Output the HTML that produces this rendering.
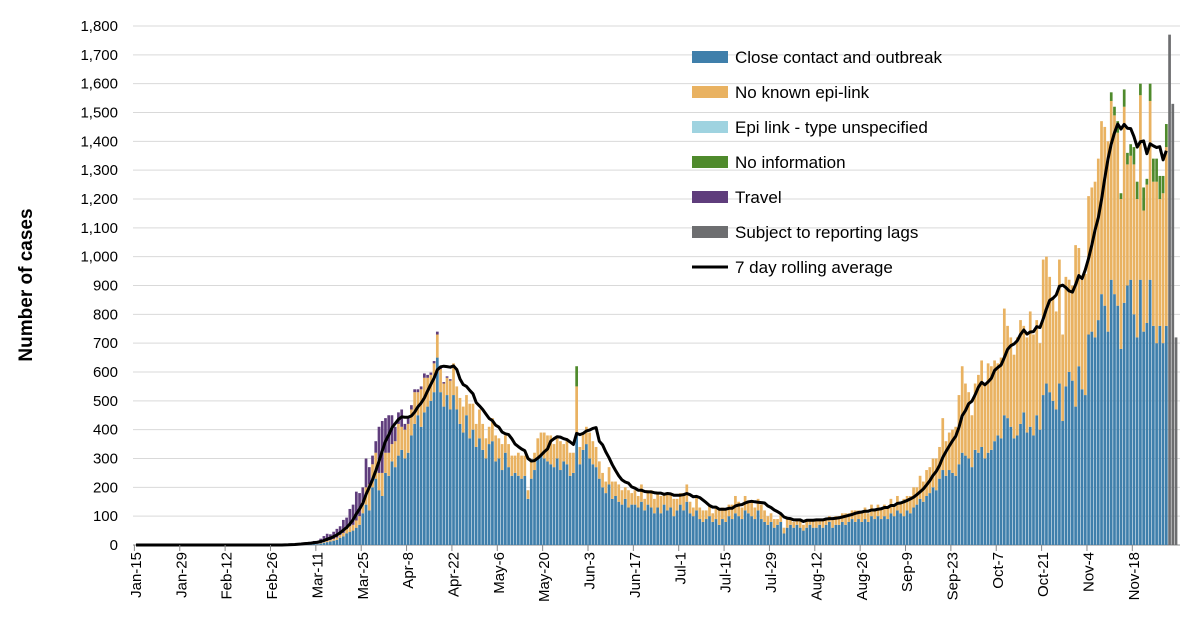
<!DOCTYPE html>
<html><head><meta charset="utf-8"><style>
html,body{margin:0;padding:0;background:#fff;}
svg{display:block;font-family:"Liberation Sans",sans-serif;}
</style></head><body>
<svg id="chart" width="1200" height="638" viewBox="0 0 1200 638">
<g id="grid"></g>
<g id="yaxis"></g>
<g id="bars"></g>
<g id="line"></g>
<g id="xaxis"></g>
<text transform="translate(32,285) rotate(-90)" text-anchor="middle" font-size="19" font-weight="bold" fill="#000">Number of cases</text>
<g id="legend"></g>
</svg>
<script>
const startIndex = 46; // data arrays begin Mar 1 (day index from Jan 15)
const xLabels = ["Jan-15","Jan-29","Feb-12","Feb-26","Mar-11","Mar-25","Apr-8","Apr-22","May-6","May-20","Jun-3","Jun-17","Jul-1","Jul-15","Jul-29","Aug-12","Aug-26","Sep-9","Sep-23","Oct-7","Oct-21","Nov-4","Nov-18"];
const yTicks = [0,100,200,300,400,500,600,700,800,900,1000,1100,1200,1300,1400,1500,1600,1700,1800];
const closeContact = [
1,1,2,1,2,2,3,2,3,4,
3,5,8,10,12,15,18,
25,30,40,45,50,60,70,
110,140,120,200,230,190,170,
250,240,290,270,310,330,300,
320,380,420,450,410,460,480,
500,530,650,530,480,520,470,
520,470,420,390,450,370,400,
340,370,330,300,350,360,290,
300,260,320,270,240,250,240,
230,240,160,230,260,300,310,
300,290,280,270,300,260,290,
280,240,250,380,280,330,350,
300,280,270,230,200,180,210,
160,170,150,140,160,130,140,
140,130,150,120,140,130,110,
130,110,140,120,130,100,120,
140,120,150,110,100,120,90,
80,90,100,80,90,70,90,
80,100,90,110,100,90,120,
110,100,90,120,90,80,70,
80,60,70,80,40,60,70,
60,70,60,50,60,70,60,
60,70,60,70,80,60,70,
70,80,70,80,90,80,90,
80,90,80,100,90,100,90,
100,90,110,100,120,110,100,
120,110,130,140,160,150,170,
180,200,190,230,260,240,260,
250,240,280,320,310,300,270,
330,320,340,300,320,330,360,
380,370,450,440,410,370,380,
420,460,390,410,380,450,400,
520,560,530,500,470,560,430,
550,600,570,480,620,540,520,
730,740,720,780,870,830,740,
920,870,830,680,840,900,920,
800,720,920,740,770,920,760,
700,760,700,760];
const noKnownLink = [
0,1,0,1,1,1,1,2,2,2,
1,2,3,4,5,6,8,
10,12,15,20,20,25,30,
40,60,90,80,90,60,80,
70,80,60,90,110,80,100,
100,90,110,80,130,120,100,
90,100,80,80,80,60,100,
110,80,90,90,70,120,90,
80,100,90,70,60,80,90,
70,90,60,80,70,60,80,
80,70,30,60,60,70,80,
90,90,100,80,70,100,60,
90,80,70,170,60,60,60,
90,80,70,60,50,40,60,
60,50,60,50,40,60,40,
50,40,60,40,50,60,50,
50,60,40,60,50,60,40,
40,60,60,40,30,50,40,
40,30,40,30,40,50,40,
40,40,50,60,50,40,50,
40,50,40,40,50,40,30,
30,30,20,30,20,30,20,
20,20,30,20,30,20,30,
30,20,30,20,20,30,30,
30,30,40,30,30,40,30,
30,40,30,40,30,40,40,
40,40,50,40,50,40,60,
50,60,70,60,80,70,90,
90,100,110,110,180,120,130,
150,170,240,300,250,230,180,
230,270,300,260,310,290,280,
250,280,370,320,310,290,340,
360,300,330,400,350,330,300,
470,440,400,360,340,430,300,
380,320,330,560,410,380,420,
480,500,540,560,600,620,660,
620,620,600,520,680,420,430,
520,480,640,420,480,620,500,
560,440,520,620];
const travel = [
1,2,1,2,3,3,4,5,6,8,
10,15,20,25,20,25,30,
30,45,40,60,70,100,80,
50,100,60,30,40,160,180,
120,130,100,50,40,60,20,
20,15,10,10,10,15,10,
8,8,10,5,5,5,5];
const noInfoStart = 301;
const noInfo = [30,30,40,20,60,40,40, 60,60,40,80,20,60,80, 80,80,60,80];
const spikeDay = 136, spikeNoInfo = 70;
const lagValues = [1770,1530,720];
const lagStart = 319;

const X0=136, DX=3.24, Y0=545, YK=(545-26)/1800;
const xs = i => X0 + i*DX;
const ys = v => Y0 - v*YK;
const NS="http://www.w3.org/2000/svg";
function mk(tag, attrs, parent){const e=document.createElementNS(NS,tag);for(const k in attrs)e.setAttribute(k,attrs[k]);parent.appendChild(e);return e;}

const grid=document.getElementById('grid'), yax=document.getElementById('yaxis');
yTicks.forEach(t=>{
  if(t>0){const l=mk('line',{x1:133,x2:1180,y1:ys(t),y2:ys(t),stroke:'#d9d9d9','stroke-width':1},grid);
  
  }
  const tx=mk('text',{x:118,y:ys(t)+5,'text-anchor':'end','font-size':15,fill:'#000'},yax);
  tx.textContent=t.toLocaleString('en-US');
  
  
});
const ax=mk('line',{x1:133,x2:1180,y1:Y0,y2:Y0,stroke:'#888','stroke-width':1},grid);



const xax=document.getElementById('xaxis');
xLabels.forEach((s,k)=>{
  const x=xs(k*14);
  const tk=mk('line',{x1:x-1.6,x2:x-1.6,y1:Y0,y2:Y0+6,stroke:'#888'},xax);
  
  
  const t=mk('text',{transform:`translate(${x+5},552) rotate(-90)`,'text-anchor':'end','font-size':15,fill:'#000'},xax);
  t.textContent=s;
  
  
});

const C={b:'#3f7fab',o:'#e9b261',v:'#5f3d7c',n:'#4f8a2c',g:'#6d6e70'};
const bars=document.getElementById('bars');
const totals=new Array(319).fill(0);
function seg(i,base,val,col,name){
  if(val<=0)return base;
  const r=mk('rect',{x:xs(i)-1.35,y:ys(base+val),width:2.7,height:val*YK,fill:col},bars);
  
  
  return base+val;
}
for(let j=0;j<closeContact.length;j++){
  const i=startIndex+j;
  let b=0;
  b=seg(i,b,closeContact[j],C.b,'bar-close-contact');
  b=seg(i,b,noKnownLink[j],C.o,'bar-no-known-link');
  let n=0;
  if(i>=noInfoStart) n=noInfo[i-noInfoStart]||0;
  if(i===spikeDay) n=spikeNoInfo;
  b=seg(i,b,n,C.n,'bar-no-information');
  b=seg(i,b,travel[j]||0,C.v,'bar-travel');
  totals[i]=b;
}
lagValues.forEach((v,k)=>{seg(lagStart+k,0,v,C.g,'bar-reporting-lag');});

const avg=[];
for(let i=0;i<totals.length;i++){let s=0;for(let k=0;k<7;k++)s+=(i-k>=0?totals[i-k]:0);avg.push(s/7);}
const path=avg.map((v,i)=>(i?'L':'M')+xs(i).toFixed(1)+','+ys(v).toFixed(1)).join('');
const pl=mk('path',{d:path,fill:'none',stroke:'#000','stroke-width':3,'stroke-linejoin':'round'},document.getElementById('line'));



const legendItems=[["Close contact and outbreak",C.b],["No known epi-link",C.o],["Epi link - type unspecified","#9fd3e0"],["No information",C.n],["Travel",C.v],["Subject to reporting lags",C.g],["7 day rolling average",null]];
const lg=document.getElementById('legend');
legendItems.forEach((it,k)=>{
  const y=57+k*35;
  const g=mk('g',{},lg);
  
  
  if(it[1]) mk('rect',{x:692,y:y-6,width:36,height:12,fill:it[1]},g);
  else mk('line',{x1:692,x2:728,y1:y,y2:y,stroke:'#000','stroke-width':3},g);
  const t=mk('text',{x:735,y:y+6,'font-size':17,fill:'#000'},g);
  t.textContent=it[0];
});
</script>
</body></html>
